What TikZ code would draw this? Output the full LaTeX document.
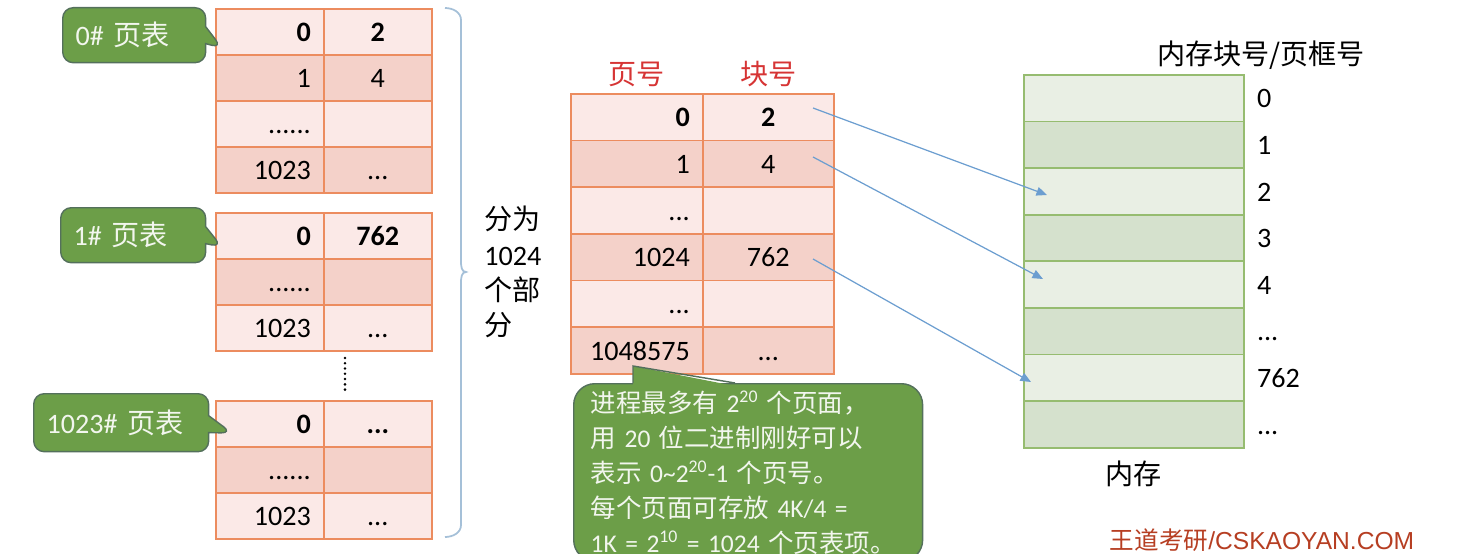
\documentclass[tikz,border=0pt]{standalone}
\usepackage{fontspec}
\setmainfont{Carlito}
\newfontfamily\cjk{Noto Sans CJK SC}
\newfontfamily\wmfont{Liberation Sans}
\usetikzlibrary{arrows.meta, positioning, shapes.callouts}

\definecolor{pinklite}{RGB}{251,233,231}
\definecolor{pinkdeep}{RGB}{244,209,201}
\definecolor{tabline}{RGB}{236,140,95}
\definecolor{taggreen}{RGB}{108,158,72}
\definecolor{tagedge}{RGB}{84,112,92}
\definecolor{tagtext}{RGB}{242,246,238}
\definecolor{memlite}{RGB}{233,239,228}
\definecolor{memdeep}{RGB}{213,225,205}
\definecolor{memline}{RGB}{150,188,112}
\definecolor{linkblue}{RGB}{108,158,208}
\definecolor{headred}{RGB}{214,52,52}
\definecolor{bracegray}{RGB}{165,192,216}
\definecolor{markred}{RGB}{182,62,34}

\newcommand{\sixdot}{......}
\newcommand{\tridot}{...}

\begin{document}
\begin{tikzpicture}[x=0.02cm, y=-0.02cm, font=\fontsize{16}{20}\selectfont,
    tab/.style={draw=tabline, line width=0.9pt, anchor=north west, inner xsep=0.26cm, inner ysep=0pt, text height=11pt, text depth=0pt},
    numcol/.style={tab, align=right, text width=#1},
    valcol/.style={tab, align=center, text width=#1},
    tag/.style={rectangle callout, rounded corners=6pt, fill=taggreen, draw=tagedge, line width=0.8pt, text=tagtext, align=left, anchor=north west, inner xsep=0.26cm, inner ysep=0pt, minimum height=1.1cm, callout pointer width=0.34cm},
    frame/.style={draw=memline, line width=1pt, anchor=north west, minimum width=4.4cm, minimum height=0.932cm, inner sep=0pt},
    numlab/.style={inner sep=0pt, text height=11pt, text depth=0pt},
    link/.style={linkblue, line width=0.7pt, -{Triangle[length=6pt, width=5pt]}}]
    \path[use as bounding box, clip] (0,0) rectangle (1463,554);

    % 0# page table
    \foreach \pg/\fr/\col [count=\i from 0] in {{\textbf{0}}/{\textbf{2}}/pinklite, 1/4/pinkdeep, \sixdot/{}/pinklite, 1023/\tridot/pinkdeep}
    {
        \node[numcol=1.64cm, fill=\col, minimum height=0.92cm] (pa\i) at (215,{8+46*\i}) {\pg};
        \node[valcol=1.64cm, fill=\col, minimum height=0.92cm] (fa\i) at (323,{8+46*\i}) {\fr};
    }

    % 1# page table
    \foreach \pg/\fr/\col [count=\i from 0] in {{\textbf{0}}/{\textbf{762}}/pinklite, \sixdot/{}/pinkdeep, 1023/\tridot/pinklite}
    {
        \node[numcol=1.64cm, fill=\col, minimum height=0.92cm] (pb\i) at (215,{212+46*\i}) {\pg};
        \node[valcol=1.64cm, fill=\col, minimum height=0.92cm] (fb\i) at (323,{212+46*\i}) {\fr};
    }

    % 1023# page table
    \foreach \pg/\fr/\col [count=\i from 0] in {{\textbf{0}}/{\textbf{\tridot}}/pinklite, \sixdot/{}/pinkdeep, 1023/\tridot/pinklite}
    {
        \node[numcol=1.64cm, fill=\col, minimum height=0.92cm] (pc\i) at (215,{400+46*\i}) {\pg};
        \node[valcol=1.64cm, fill=\col, minimum height=0.92cm] (fc\i) at (323,{400+46*\i}) {\fr};
    }

    % vertical dots
    \coordinate (vtop) at (345,358);
    \coordinate (vbot) at (345,392);
    \draw[line width=1.6pt, line cap=round, dash pattern=on 0pt off 3pt] (vtop) -- (vbot);

    % labels of the small tables
    \coordinate (tip0) at (222,48);
    \coordinate (tip1) at (222,247);
    \coordinate (tip2) at (232,433);
    \node[tag, text width=2.34cm, callout absolute pointer=(tip0)] (tag0) at (62,7) {0\# {\cjk 页表}};
    \node[tag, text width=2.38cm, callout absolute pointer=(tip1)] (tag1) at (60,207) {1\# {\cjk 页表}};
    \node[tag, text width=2.98cm, minimum height=1.16cm, callout absolute pointer=(tip2)] (tag2) at (33,393) {1023\# {\cjk 页表}};

    % brace
    \draw[bracegray, line width=1pt] (445,8) to[out=0,in=90] (461,20) -- (461,262)
        to[out=-90,in=180] (466,272) to[out=180,in=90] (461,282) -- (461,525) to[out=-90,in=0] (445,537);
    \coordinate (brtip) at (466,272);
    \node[right=0.36cm of brtip, align=left, inner sep=0pt] (parts) {{\cjk 分为}\\1024\\{\cjk 个部}\\{\cjk 分}};

    % single-level page table
    \foreach \pg/\fr/\col [count=\i from 0] in {{\textbf{0}}/{\textbf{2}}/pinklite, 1/4/pinkdeep, \tridot/{}/pinklite, 1024/762/pinkdeep, \tridot/{}/pinklite, 1048575/\tridot/pinkdeep}
    {
        \node[numcol=2.12cm, fill=\col, minimum height=0.933cm] (pm\i) at (570,{93+46.67*\i}) {\pg};
        \node[valcol=2.1cm, fill=\col, minimum height=0.933cm] (fm\i) at (702,{93+46.67*\i}) {\fr};
    }
    \node[text=headred, above=0pt of pm0] (pghead) {\cjk 页号};
    \node[text=headred, above=0pt of fm0] (frhead) {\cjk 块号};

    % note
    \node[draw=tagedge, fill=taggreen, line width=0.8pt, rounded corners=12pt, text=tagtext, anchor=north west,
          align=left, text width=6.3cm, inner xsep=0.34cm, inner ysep=0.14cm, font=\fontsize{14.5}{19.9}\selectfont] (note) at (573,383)
        {{\cjk 进程最多有} 2\textsuperscript{20} {\cjk 个页面，}\\
         {\cjk 用} 20 {\cjk 位二进制刚好可以}\\
         {\cjk 表示} 0\textasciitilde2\textsuperscript{20}-1 {\cjk 个页号。}\\
         {\cjk 每个页面可存放} 4K/4 =\\
         1K = 2\textsuperscript{10} = 1024 {\cjk 个页表项。}\\[6pt]};
    \coordinate (tipn) at (633,366);
    \fill[taggreen] (tipn) -- (633,386) -- (735,386) -- cycle;
    \draw[tagedge, line width=0.8pt] (633,383) -- (tipn) -- (735,383);

    % memory
    \foreach \col [count=\i from 0] in {memlite,memdeep,memlite,memdeep,memlite,memdeep,memlite,memdeep}
        \node[frame, fill=\col] (mem\i) at (1023,{74+46.6*\i}) {};
    \foreach \lab [count=\i from 0] in {0,1,2,3,4,\tridot,762,\tridot}
        \node[numlab, right=0.24cm of mem\i.east] (lab\i) {\lab};
    \node (frameno) at (1261,55) {\cjk 内存块号/页框号};
    \node[below=0.12cm of mem7] (memname) {\cjk 内存};

    % mapping
    \coordinate (src0) at (813,108);
    \coordinate (src1) at (813,157);
    \coordinate (src2) at (813,259);
    \coordinate (dst0) at (1047,195);
    \coordinate (dst1) at (1043,279);
    \coordinate (dst2) at (1031,382);
    \foreach \k in {0,1,2}
        \draw[link] (src\k) -- (dst\k);

    \node[text=markred, font=\wmfont\fontsize{14}{16}\selectfont] (mark) at (1262,540) {{\cjk 王道考研}/CSKAOYAN.COM};
\end{tikzpicture}
\end{document}
